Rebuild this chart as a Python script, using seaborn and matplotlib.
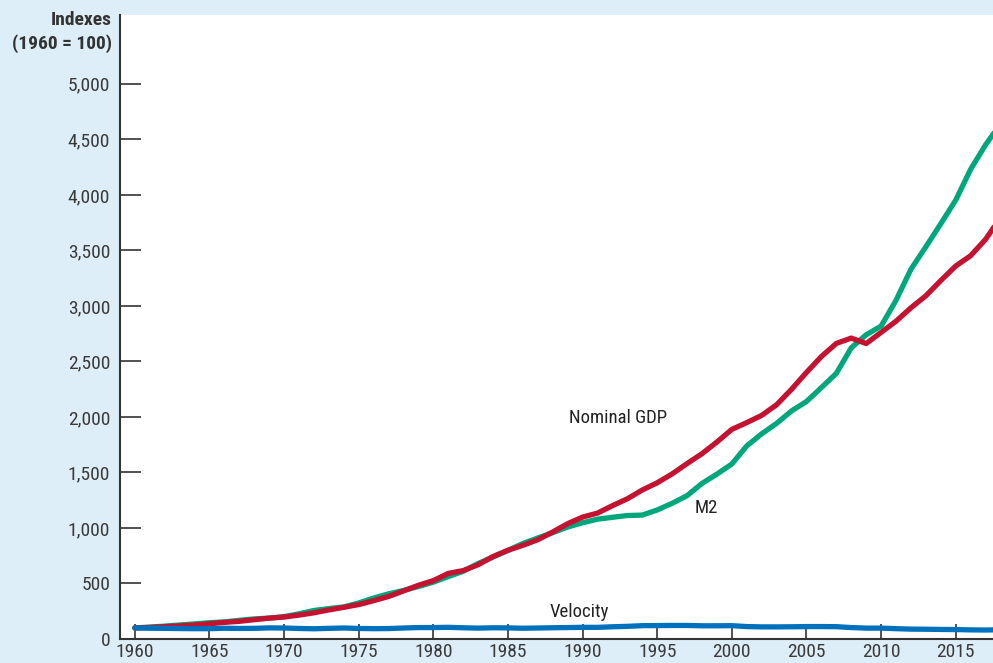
import numpy as np
import pandas as pd
import matplotlib
matplotlib.use('Agg')
import matplotlib.pyplot as plt
import seaborn as sns

# =============================================================================
# DATOS (indices, 1960 = 100)
# =============================================================================
years = list(range(1960, 2019))

nominal_gdp = [
    100, 104, 111, 118, 126, 137, 150, 159, 174, 188,
    198, 215, 236, 262, 285, 310, 345, 383, 433, 484,
    526, 591, 616, 669, 743, 799, 844, 894, 964, 1039,
    1098, 1134, 1201, 1263, 1342, 1407, 1487, 1580, 1669, 1774,
    1888, 1949, 2014, 2110, 2249, 2401, 2544, 2662, 2710, 2661,
    2761, 2862, 2983, 3091, 3228, 3359, 3452, 3599, 3796,
]

m2 = [
    100, 107, 116, 126, 136, 147, 154, 168, 181, 188,
    201, 227, 257, 274, 289, 325, 369, 407, 437, 472,
    512, 562, 610, 680, 738, 798, 860, 910, 957, 1009,
    1047, 1079, 1096, 1112, 1116, 1162, 1222, 1291, 1401, 1485,
    1576, 1739, 1848, 1942, 2054, 2139, 2264, 2392, 2622, 2740,
    2818, 3050, 3330, 3532, 3740, 3952, 4230, 4450, 4640,
]

velocity = [
    100, 97, 96, 94, 93, 93, 97, 95, 96, 100,
    99, 95, 92, 96, 99, 95, 93, 94, 99, 103,
    103, 105, 101, 98, 101, 100, 97, 99, 101, 103,
    105, 105, 110, 114, 120, 121, 122, 122, 119, 119,
    120, 112, 109, 109, 110, 112, 112, 111, 103, 98,
    98, 93, 89, 88, 86, 85, 82, 81, 83,
]

year_ticks = list(range(1960, 2016, 5))
value_ticks = list(range(0, 5001, 500))

GREEN = '#00a77a'
RED = '#c41230'
BLUE = '#0071bc'
FONDO = '#deeef8'
EJE = '#333333'

# =============================================================================
# ESTILO
# =============================================================================
sns.set_style('white')
plt.rcParams['font.family'] = ['Roboto Condensed', 'Roboto', 'DejaVu Sans']

fig = plt.figure(figsize=(9.93, 6.63), dpi=100, facecolor=FONDO)
ax = fig.add_axes([0.1208, 0.0362, 0.8792, 0.9412])
ax.set_facecolor('white')

# =============================================================================
# LINEAS
# =============================================================================
sns.lineplot(x=years, y=m2, color=GREEN, linewidth=3.8, ax=ax)
sns.lineplot(x=years, y=nominal_gdp, color=RED, linewidth=3.8, ax=ax)
sns.lineplot(x=years, y=velocity, color=BLUE, linewidth=3.8, ax=ax)

ax.text(1992.4, 1990, 'Nominal GDP', fontsize=13.5, color='#222222',
        ha='center', va='center')
ax.text(1998.3, 1180, 'M2', fontsize=13.5, color='#222222',
        ha='center', va='center')
ax.text(1989.8, 245, 'Velocity', fontsize=13.5, color='#222222',
        ha='center', va='center')

# =============================================================================
# EJES
# =============================================================================
ax.set_xlim(1959.0, 2017.5)
ax.set_ylim(0, 5620)

ax.set_xticks(year_ticks)
ax.set_xticklabels([str(y) for y in year_ticks])
ax.set_yticks(value_ticks)
ax.set_yticklabels([f'{v:,}' for v in value_ticks])

ax.tick_params(axis='y', direction='in', length=15, width=1.2,
               color=EJE, labelcolor='#3a3a3a', labelsize=14, pad=7, left=True)
ax.tick_params(axis='x', direction='in', length=11, width=1.2,
               color=EJE, labelcolor='#3a3a3a', labelsize=14, pad=3, bottom=True)

for lado in ['top', 'right']:
    ax.spines[lado].set_visible(False)
for lado in ['left', 'bottom']:
    ax.spines[lado].set_color(EJE)
    ax.spines[lado].set_linewidth(1.5)

fig.text(0.113, 0.984, 'Indexes\n(1960 = 100)', ha='right', va='top',
         fontsize=14, fontweight='bold', color=EJE, linespacing=1.4)

fig.savefig('out.png', dpi=100, facecolor=FONDO)
